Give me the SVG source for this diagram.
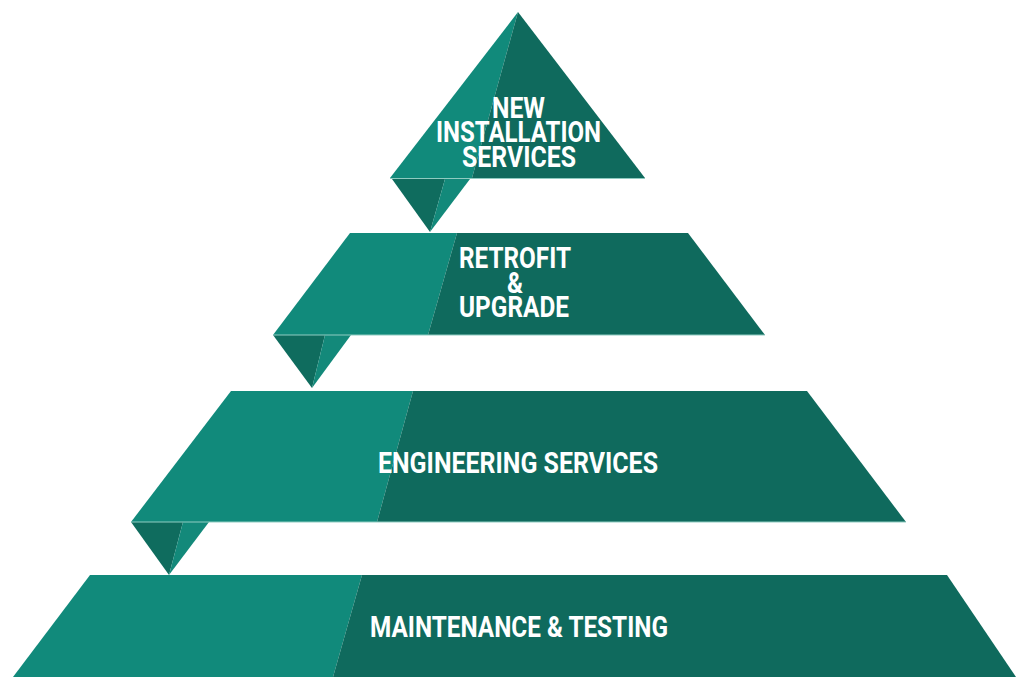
<svg xmlns="http://www.w3.org/2000/svg" width="1016" height="677" viewBox="0 0 1016 677">
  <style>
    .lt { fill: #118a7b; }
    .dk { fill: #0f6a5d; }
    .fdk { fill: #0f6c5e; }
    .flt { fill: #13897a; }
    .hl { stroke: #8fcbc1; stroke-width: 1.2; fill: none; }
    .lbl { font-family: "Roboto", "Liberation Sans", sans-serif; font-weight: 700; font-size: 29px; fill: #ffffff; text-anchor: start; }
  </style>
  <rect width="1016" height="677" fill="#ffffff"/>
  <g id="connectors">
    <g id="fold1">
      <polygon class="fdk" points="392,179 445,179 430,232"/>
      <polygon class="flt" points="445,179 470,179 430,232"/>
    </g>
    <g id="fold2">
      <polygon class="fdk" points="273,335 325,335 312,388"/>
      <polygon class="flt" points="325,335 351,335 312,388"/>
    </g>
    <g id="fold3">
      <polygon class="fdk" points="131,522 183,522 169,575"/>
      <polygon class="flt" points="183,522 209,522 169,575"/>
    </g>
  </g>
  <g id="node-new-installation">
    <polygon class="lt" points="518,12 390,178 472,178"/>
    <polygon class="dk" points="518,12 472,178 645,178"/>
    <line class="hl" x1="390" y1="178.5" x2="645" y2="178.5"/>
    <text class="lbl"><tspan x="492" y="117.5" textLength="53" lengthAdjust="spacingAndGlyphs">NEW</tspan><tspan x="436" y="142" textLength="165" lengthAdjust="spacingAndGlyphs">INSTALLATION</tspan><tspan x="462" y="167" textLength="114" lengthAdjust="spacingAndGlyphs">SERVICES</tspan></text>
  </g>
  <g id="node-retrofit">
    <polygon class="lt" points="350,233 457,233 428,335 273,335"/>
    <polygon class="dk" points="457,233 688,233 765,335 428,335"/>
    <line class="hl" x1="273" y1="335" x2="765" y2="335"/>
    <text class="lbl"><tspan x="459" y="268" textLength="112" lengthAdjust="spacingAndGlyphs">RETROFIT</tspan><tspan x="507" y="293" textLength="16" lengthAdjust="spacingAndGlyphs">&amp;</tspan><tspan x="459" y="317" textLength="110" lengthAdjust="spacingAndGlyphs">UPGRADE</tspan></text>
  </g>
  <g id="node-engineering">
    <polygon class="lt" points="231,391 413,391 377,522 131,522"/>
    <polygon class="dk" points="413,391 807,391 906,522 377,522"/>
    <line class="hl" x1="131" y1="522" x2="906" y2="522"/>
    <text class="lbl" x="378" y="473" textLength="280" lengthAdjust="spacingAndGlyphs">ENGINEERING SERVICES</text>
  </g>
  <g id="node-maintenance">
    <polygon class="lt" points="90,575 362,575 333,677 13,677"/>
    <polygon class="dk" points="362,575 947,575 1016,677 333,677"/>
    <text class="lbl" x="370" y="637" textLength="298" lengthAdjust="spacingAndGlyphs">MAINTENANCE &amp; TESTING</text>
  </g>
</svg>
